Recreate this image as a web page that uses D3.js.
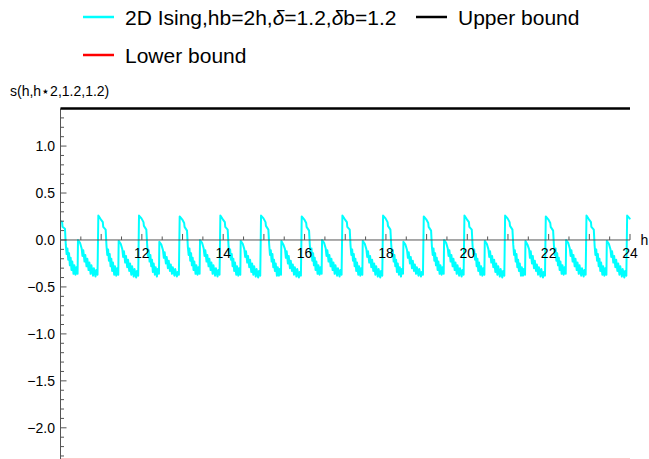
<!DOCTYPE html>
<html>
<head>
<meta charset="utf-8">
<script src="https://cdn.jsdelivr.net/npm/d3@7"></script>
<style>
  html, body { margin: 0; padding: 0; background: #fff; }
  svg { display: block; font-family: "Liberation Sans", Arial, sans-serif; }
</style>
</head>
<body>
<svg id="chart" width="649" height="459"></svg>
<script>
// ---------- data ----------
const xDomain = [10, 24];
const yDomain = [-2.33, 1.4];
const xTickValues = [12, 14, 16, 18, 20, 22, 24];
const yTickValues = [-2.0, -1.5, -1.0, -0.5, 0.0, 0.5, 1.0];
const upperBound = 1.4;
const lowerBound = -2.33;
const seriesNames = ["2D Ising,hb=2h,δ=1.2,δb=1.2", "Upper bound", "Lower bound"];
const seriesColors = ["#00ffff", "#000000", "#ff0000"];
const xAxisLabel = "h";
const yAxisLabel = "s(h,h⋆2,1.2,1.2)";

const isingPoints = [
[10.00,0.20],[10.04,0.19],[10.05,0.14],[10.11,0.12],[10.13,-0.05],[10.15,-0.15],[10.17,-0.09],[10.19,-0.21],[10.21,-0.14],[10.23,-0.27],[10.25,-0.19],[10.27,-0.32],[10.29,-0.23],[10.32,-0.36],[10.34,-0.27],[10.37,-0.37],[10.39,-0.29],[10.42,-0.36],[10.43,0.00],[10.48,-0.03],[10.52,-0.09],[10.54,-0.17],[10.56,-0.11],[10.59,-0.23],[10.61,-0.16],[10.64,-0.28],[10.66,-0.20],[10.69,-0.32],[10.71,-0.24],[10.74,-0.36],[10.76,-0.27],[10.80,-0.38],[10.82,-0.30],[10.86,-0.39],[10.88,-0.32],[10.91,-0.37],
[10.93,0.26],[10.99,0.22],[11.04,0.19],[11.05,0.14],[11.11,0.11],[11.13,-0.06],[11.15,-0.16],[11.17,-0.10],[11.19,-0.22],[11.21,-0.15],[11.23,-0.28],[11.25,-0.20],[11.27,-0.33],[11.29,-0.24],[11.32,-0.37],[11.34,-0.28],[11.37,-0.38],[11.39,-0.30],[11.42,-0.37],[11.43,-0.01],[11.48,-0.04],[11.52,-0.10],[11.54,-0.18],[11.56,-0.12],[11.59,-0.24],[11.61,-0.17],[11.64,-0.29],[11.66,-0.21],[11.69,-0.33],[11.71,-0.25],[11.74,-0.37],[11.76,-0.28],[11.80,-0.39],[11.82,-0.31],[11.86,-0.40],[11.88,-0.33],[11.91,-0.38],
[11.93,0.26],[11.99,0.23],[12.04,0.19],[12.05,0.15],[12.11,0.11],[12.13,-0.05],[12.15,-0.17],[12.17,-0.11],[12.19,-0.23],[12.21,-0.16],[12.23,-0.28],[12.25,-0.21],[12.27,-0.34],[12.29,-0.25],[12.32,-0.37],[12.34,-0.29],[12.37,-0.39],[12.39,-0.31],[12.42,-0.36],[12.43,-0.02],[12.48,-0.05],[12.52,-0.11],[12.54,-0.19],[12.56,-0.13],[12.59,-0.25],[12.61,-0.18],[12.64,-0.30],[12.66,-0.22],[12.69,-0.33],[12.71,-0.26],[12.74,-0.36],[12.76,-0.29],[12.80,-0.38],[12.82,-0.31],[12.86,-0.39],[12.88,-0.34],[12.91,-0.37],
[12.93,0.25],[12.99,0.22],[13.04,0.18],[13.05,0.14],[13.11,0.10],[13.13,-0.07],[13.15,-0.16],[13.17,-0.09],[13.19,-0.22],[13.21,-0.14],[13.23,-0.27],[13.25,-0.19],[13.27,-0.32],[13.29,-0.23],[13.32,-0.36],[13.34,-0.27],[13.37,-0.37],[13.39,-0.29],[13.42,-0.36],[13.43,0.00],[13.48,-0.03],[13.52,-0.09],[13.54,-0.17],[13.56,-0.11],[13.59,-0.23],[13.61,-0.16],[13.64,-0.28],[13.66,-0.20],[13.69,-0.32],[13.71,-0.24],[13.74,-0.36],[13.76,-0.27],[13.80,-0.38],[13.82,-0.30],[13.86,-0.39],[13.88,-0.32],[13.91,-0.37],
[13.93,0.26],[13.99,0.22],[14.04,0.19],[14.05,0.14],[14.11,0.11],[14.13,-0.06],[14.15,-0.15],[14.17,-0.10],[14.19,-0.21],[14.21,-0.15],[14.23,-0.28],[14.25,-0.20],[14.27,-0.33],[14.29,-0.24],[14.32,-0.37],[14.34,-0.28],[14.37,-0.38],[14.39,-0.30],[14.42,-0.37],[14.43,-0.01],[14.48,-0.04],[14.52,-0.10],[14.54,-0.18],[14.56,-0.12],[14.59,-0.24],[14.61,-0.17],[14.64,-0.29],[14.66,-0.21],[14.69,-0.34],[14.71,-0.25],[14.74,-0.37],[14.76,-0.28],[14.80,-0.39],[14.82,-0.31],[14.86,-0.40],[14.88,-0.33],[14.91,-0.38],
[14.93,0.26],[14.99,0.23],[15.04,0.19],[15.05,0.15],[15.11,0.11],[15.13,-0.05],[15.15,-0.16],[15.17,-0.11],[15.19,-0.23],[15.21,-0.15],[15.23,-0.29],[15.25,-0.21],[15.27,-0.33],[15.29,-0.25],[15.32,-0.38],[15.34,-0.29],[15.37,-0.38],[15.39,-0.31],[15.42,-0.37],[15.43,-0.01],[15.48,-0.05],[15.52,-0.10],[15.54,-0.19],[15.56,-0.12],[15.59,-0.25],[15.61,-0.17],[15.64,-0.30],[15.66,-0.22],[15.69,-0.33],[15.71,-0.26],[15.74,-0.37],[15.76,-0.29],[15.80,-0.39],[15.82,-0.31],[15.86,-0.40],[15.88,-0.34],[15.91,-0.38],
[15.93,0.25],[15.99,0.22],[16.04,0.18],[16.05,0.14],[16.11,0.10],[16.13,-0.06],[16.15,-0.16],[16.17,-0.09],[16.19,-0.22],[16.21,-0.14],[16.23,-0.27],[16.25,-0.19],[16.27,-0.32],[16.29,-0.23],[16.32,-0.36],[16.34,-0.27],[16.37,-0.37],[16.39,-0.29],[16.42,-0.36],[16.43,0.00],[16.48,-0.03],[16.52,-0.09],[16.54,-0.17],[16.56,-0.11],[16.59,-0.23],[16.61,-0.16],[16.64,-0.28],[16.66,-0.20],[16.69,-0.32],[16.71,-0.24],[16.74,-0.36],[16.76,-0.27],[16.80,-0.38],[16.82,-0.30],[16.86,-0.39],[16.88,-0.32],[16.91,-0.37],
[16.93,0.26],[16.99,0.22],[17.04,0.19],[17.05,0.14],[17.11,0.11],[17.13,-0.06],[17.15,-0.16],[17.17,-0.10],[17.19,-0.22],[17.21,-0.15],[17.23,-0.28],[17.25,-0.20],[17.27,-0.33],[17.29,-0.24],[17.32,-0.37],[17.34,-0.28],[17.37,-0.38],[17.39,-0.30],[17.42,-0.37],[17.43,-0.01],[17.48,-0.04],[17.52,-0.10],[17.54,-0.18],[17.56,-0.12],[17.59,-0.24],[17.61,-0.17],[17.64,-0.29],[17.66,-0.21],[17.69,-0.33],[17.71,-0.25],[17.74,-0.37],[17.76,-0.28],[17.80,-0.39],[17.82,-0.31],[17.86,-0.40],[17.88,-0.33],[17.91,-0.38],
[17.93,0.26],[17.99,0.23],[18.04,0.19],[18.05,0.15],[18.11,0.11],[18.13,-0.05],[18.15,-0.17],[18.17,-0.11],[18.19,-0.23],[18.21,-0.16],[18.23,-0.28],[18.25,-0.21],[18.27,-0.34],[18.29,-0.25],[18.32,-0.37],[18.34,-0.29],[18.37,-0.39],[18.39,-0.31],[18.42,-0.36],[18.43,-0.02],[18.48,-0.05],[18.52,-0.11],[18.54,-0.19],[18.56,-0.13],[18.59,-0.25],[18.61,-0.18],[18.64,-0.30],[18.66,-0.22],[18.69,-0.33],[18.71,-0.26],[18.74,-0.36],[18.76,-0.29],[18.80,-0.38],[18.82,-0.31],[18.86,-0.39],[18.88,-0.34],[18.91,-0.37],
[18.93,0.25],[18.99,0.22],[19.04,0.18],[19.05,0.14],[19.11,0.10],[19.13,-0.07],[19.15,-0.16],[19.17,-0.09],[19.19,-0.22],[19.21,-0.14],[19.23,-0.27],[19.25,-0.19],[19.27,-0.32],[19.29,-0.23],[19.32,-0.36],[19.34,-0.27],[19.37,-0.37],[19.39,-0.29],[19.42,-0.36],[19.43,0.00],[19.48,-0.03],[19.52,-0.09],[19.54,-0.17],[19.56,-0.11],[19.59,-0.23],[19.61,-0.16],[19.64,-0.28],[19.66,-0.20],[19.69,-0.32],[19.71,-0.24],[19.74,-0.36],[19.76,-0.27],[19.80,-0.38],[19.82,-0.30],[19.86,-0.39],[19.88,-0.32],[19.91,-0.37],
[19.93,0.26],[19.99,0.22],[20.04,0.19],[20.05,0.14],[20.11,0.11],[20.13,-0.06],[20.15,-0.15],[20.17,-0.10],[20.19,-0.21],[20.21,-0.15],[20.23,-0.28],[20.25,-0.20],[20.27,-0.33],[20.29,-0.24],[20.32,-0.37],[20.34,-0.28],[20.37,-0.38],[20.39,-0.30],[20.42,-0.37],[20.43,-0.01],[20.48,-0.04],[20.52,-0.10],[20.54,-0.18],[20.56,-0.12],[20.59,-0.24],[20.61,-0.17],[20.64,-0.29],[20.66,-0.21],[20.69,-0.34],[20.71,-0.25],[20.74,-0.37],[20.76,-0.28],[20.80,-0.39],[20.82,-0.31],[20.86,-0.40],[20.88,-0.33],[20.91,-0.38],
[20.93,0.26],[20.99,0.23],[21.04,0.19],[21.05,0.15],[21.11,0.11],[21.13,-0.05],[21.15,-0.16],[21.17,-0.11],[21.19,-0.23],[21.21,-0.15],[21.23,-0.29],[21.25,-0.21],[21.27,-0.33],[21.29,-0.25],[21.32,-0.38],[21.34,-0.29],[21.37,-0.38],[21.39,-0.31],[21.42,-0.37],[21.43,-0.01],[21.48,-0.05],[21.52,-0.10],[21.54,-0.19],[21.56,-0.12],[21.59,-0.25],[21.61,-0.17],[21.64,-0.30],[21.66,-0.22],[21.69,-0.33],[21.71,-0.26],[21.74,-0.37],[21.76,-0.29],[21.80,-0.39],[21.82,-0.31],[21.86,-0.40],[21.88,-0.34],[21.91,-0.38],
[21.93,0.25],[21.99,0.22],[22.04,0.18],[22.05,0.14],[22.11,0.10],[22.13,-0.06],[22.15,-0.16],[22.17,-0.09],[22.19,-0.22],[22.21,-0.14],[22.23,-0.27],[22.25,-0.19],[22.27,-0.32],[22.29,-0.23],[22.32,-0.36],[22.34,-0.27],[22.37,-0.37],[22.39,-0.29],[22.42,-0.36],[22.43,0.00],[22.48,-0.03],[22.52,-0.09],[22.54,-0.17],[22.56,-0.11],[22.59,-0.23],[22.61,-0.16],[22.64,-0.28],[22.66,-0.20],[22.69,-0.32],[22.71,-0.24],[22.74,-0.36],[22.76,-0.27],[22.80,-0.38],[22.82,-0.30],[22.86,-0.39],[22.88,-0.32],[22.91,-0.37],
[22.93,0.26],[22.99,0.22],[23.04,0.19],[23.05,0.14],[23.11,0.11],[23.13,-0.06],[23.15,-0.16],[23.17,-0.10],[23.19,-0.22],[23.21,-0.15],[23.23,-0.28],[23.25,-0.20],[23.27,-0.33],[23.29,-0.24],[23.32,-0.37],[23.34,-0.28],[23.37,-0.38],[23.39,-0.30],[23.42,-0.37],[23.43,-0.01],[23.48,-0.04],[23.52,-0.10],[23.54,-0.18],[23.56,-0.12],[23.59,-0.24],[23.61,-0.17],[23.64,-0.29],[23.66,-0.21],[23.69,-0.33],[23.71,-0.25],[23.74,-0.37],[23.76,-0.28],[23.80,-0.39],[23.82,-0.31],[23.86,-0.40],[23.88,-0.33],[23.91,-0.38],
[23.93,0.26],[23.99,0.23],[24.00,0.22]
];

// ---------- layout ----------
const svg = d3.select("#chart");
const plotLeft = 60.5, plotRight = 630, plotTop = 108.5, plotBottom = 458.8;
const x = d3.scaleLinear().domain(xDomain).range([plotLeft, plotRight]);
const y = d3.scaleLinear().domain(yDomain).range([plotBottom, plotTop]);
const axisColor = "#555555";
const fontSize = 14;

// clip for the plot region
svg.append("defs").append("clipPath").attr("id", "plotClip")
  .append("rect").attr("x", plotLeft).attr("y", plotTop - 3)
  .attr("width", plotRight - plotLeft + 2).attr("height", 459 - plotTop + 3);

const plotG = svg.append("g").attr("clip-path", "url(#plotClip)");

// lower bound (barely visible at the bottom edge)
plotG.append("line")
  .attr("x1", x(xDomain[0])).attr("x2", x(xDomain[1]))
  .attr("y1", y(lowerBound)).attr("y2", y(lowerBound))
  .attr("stroke", "#ffc8c8").attr("stroke-width", 1.5);

// Ising series
const line = d3.line().x(d => x(d[0])).y(d => y(d[1]));
plotG.append("path")
  .datum(isingPoints)
  .attr("d", line)
  .attr("fill", "none")
  .attr("stroke", seriesColors[0])
  .attr("stroke-width", 2)
  .attr("stroke-linejoin", "round");

// ---------- axes ----------
const xAxisY = y(0);
const axG = svg.append("g");

// x axis line
axG.append("line").attr("x1", plotLeft).attr("x2", plotRight)
  .attr("y1", xAxisY).attr("y2", xAxisY)
  .attr("stroke", axisColor).attr("stroke-width", 1);

// x ticks (upwards)
const xMinor = d3.range(xDomain[0] * 2 + 1, xDomain[1] * 2 + 1).map(v => v / 2);
axG.selectAll(".xt").data(xMinor).enter().append("line")
  .attr("x1", d => x(d)).attr("x2", d => x(d))
  .attr("y1", xAxisY).attr("y2", d => xAxisY - (Number.isInteger(d) ? 6 : 3.5))
  .attr("stroke", axisColor).attr("stroke-width", 1);

axG.selectAll(".xl").data(xTickValues).enter().append("text")
  .attr("x", d => x(d)).attr("y", xAxisY + 18)
  .attr("text-anchor", "middle").attr("font-size", fontSize).attr("fill", "#000")
  .text(d => d3.format("d")(d));

axG.append("text").attr("x", 640.5).attr("y", xAxisY + 5)
  .attr("font-size", fontSize).attr("fill", "#000").text(xAxisLabel);

// y axis line
axG.append("line").attr("x1", plotLeft).attr("x2", plotLeft)
  .attr("y1", plotTop).attr("y2", 459)
  .attr("stroke", axisColor).attr("stroke-width", 1);

// y ticks (rightwards)
const yMinor = d3.range(-23, 14).map(v => v / 10);
axG.selectAll(".yt").data(yMinor).enter().append("line")
  .attr("x1", plotLeft).attr("x2", d => plotLeft + (Math.abs(Math.round(d * 10)) % 5 === 0 ? 6 : 3.5))
  .attr("y1", d => y(d)).attr("y2", d => y(d))
  .attr("stroke", axisColor).attr("stroke-width", 1);

const yFmt = d => (d < 0 ? "\u2212" : "") + d3.format(".1f")(Math.abs(d));
axG.selectAll(".yl").data(yTickValues).enter().append("text")
  .attr("x", plotLeft - 5.5).attr("y", d => y(d) + 5)
  .attr("text-anchor", "end").attr("font-size", fontSize).attr("fill", "#000")
  .text(yFmt);

// y axis label
svg.append("text").attr("x", 10).attr("y", 96)
  .attr("font-size", fontSize).attr("fill", "#000").text(yAxisLabel);

// upper bound
svg.append("line")
  .attr("x1", x(xDomain[0])).attr("x2", x(xDomain[1]))
  .attr("y1", y(upperBound)).attr("y2", y(upperBound))
  .attr("stroke", seriesColors[1]).attr("stroke-width", 2.5);

// ---------- legend ----------
const legendFont = 21;
const legendItems = [
  { name: seriesNames[0], color: seriesColors[0], x: 83, y: 17 },
  { name: seriesNames[1], color: seriesColors[1], x: 416, y: 17 },
  { name: seriesNames[2], color: seriesColors[2], x: 83, y: 55 }
];
const lg = svg.append("g");
legendItems.forEach(it => {
  lg.append("line").attr("x1", it.x).attr("x2", it.x + 31)
    .attr("y1", it.y).attr("y2", it.y)
    .attr("stroke", it.color).attr("stroke-width", 2.5);
  const t = lg.append("text").attr("x", it.x + 42).attr("y", it.y + 7.5)
    .attr("font-size", legendFont).attr("fill", "#000");
  // italicise δ
  it.name.split(/(δ)/).forEach(part => {
    if (!part) return;
    const ts = t.append("tspan").text(part);
    if (part === "δ") ts.attr("font-style", "italic");
  });
});
</script>
</body>
</html>
